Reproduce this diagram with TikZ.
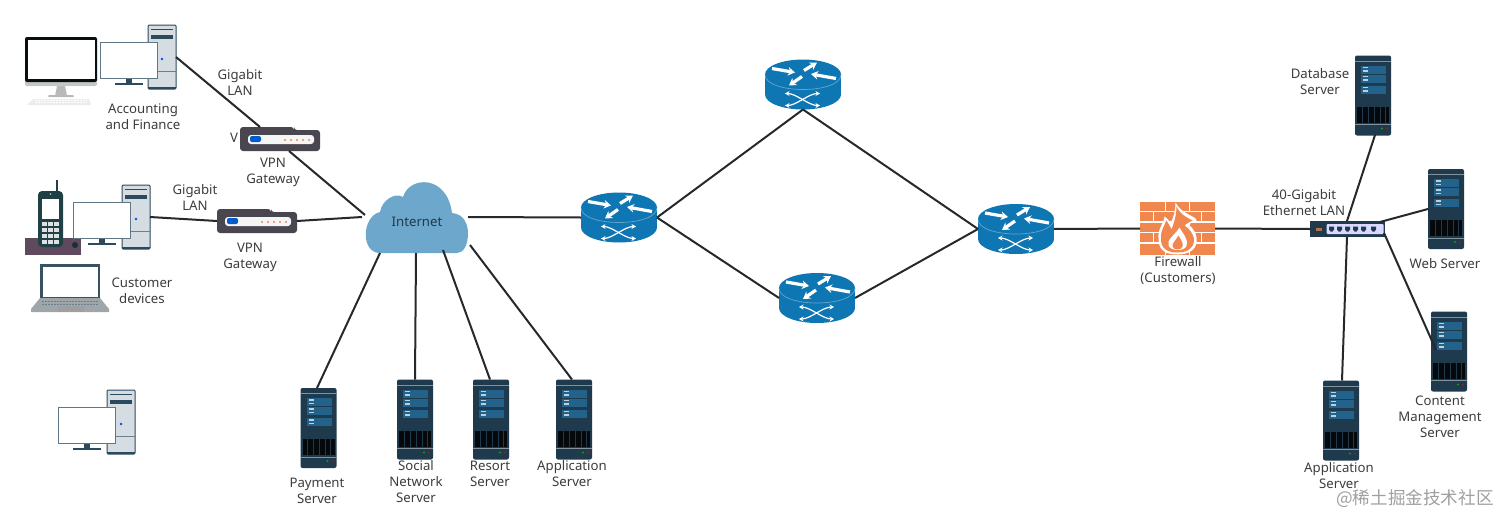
\documentclass[tikz,border=0pt]{standalone}
\usepackage{fontspec}
\setmainfont{Noto Sans}
\newfontfamily\cjkfont{Noto Sans CJK SC}
\usetikzlibrary{arrows.meta}
\definecolor{srv}{HTML}{1E3A4C}
\definecolor{srvb}{HTML}{23628A}
\definecolor{rtr}{HTML}{0F76B4}
\definecolor{cloudc}{HTML}{6DA8CC}
\definecolor{brick}{HTML}{F0874F}
\definecolor{gw}{HTML}{4A4650}
\definecolor{pcl}{HTML}{D5DCE2}
\definecolor{pcd}{HTML}{2C4A5E}
\definecolor{linec}{HTML}{26292C}
\definecolor{txt}{HTML}{3C3C3C}
\definecolor{baseph}{HTML}{5E4A5C}
\definecolor{handset}{HTML}{1F4045}
\tikzset{
  x=1pt,y=-1pt,
  conn/.style={draw=linec,line width=2pt},
  lbl/.style={text=txt,font=\fontsize{13.2}{16}\selectfont,align=center,inner sep=0pt},
  iconbox/.style={inner sep=0pt,outer sep=0pt,draw=none},
  arw/.style={draw=white,line width=3.2pt,-{Stealth[length=7pt,width=8.5pt]}},
  thinarw/.style={draw=white,line width=1.2pt,{Stealth[length=4.5pt,width=5pt]}-{Stealth[length=4.5pt,width=5pt]}},
  server/.pic={
    \fill[srv,rounded corners=2pt] (-18,-40) rectangle (18,40);
    \fill[srv!55!white] (-18,-35) rectangle (18,-33.8);
    \fill[srv!55!white] (-18,28.5) rectangle (18,29.7);
    \foreach \yy in {-30,-21,-10}{\fill[srvb] (-12,\yy) rectangle (13,\yy+8);
      \fill[white!70!srvb] (-10,\yy+1.2) rectangle (-5,\yy+2.6);
      \fill[white!70!srvb] (-10,\yy+4.6) rectangle (-5,\yy+6);}
    \fill[black!85!srv] (-16,11) rectangle (16,27);
    \foreach \xx in {-11,-5,1,7,12}{\draw[srv,line width=.5pt] (\xx,11) -- (\xx,27);}
    \fill[green!50!srv] (9,33) circle (1.2);
    \fill[red!50!srv] (14,33) circle (1.2);
  },
  router/.pic={
    \fill[rtr] (-38,-10) rectangle (38,10);
    \fill[rtr] (0,-10) ellipse[x radius=38pt,y radius=15pt];
    \fill[rtr] (0,10) ellipse[x radius=38pt,y radius=15pt];
    \draw[white!35!rtr,line width=.7pt] (-38,-10) .. controls (-38,10) and (38,10) .. (38,-10);
    \draw[arw] (-31,-16) -- (-8,-12);
    \draw[arw] (1,-14) -- (14,-22);
    \draw[arw] (33,-6) -- (8,-10.5);
    \draw[arw] (-1,-8) -- (-14,1);
    \draw[thinarw] (-18,9) .. controls (-7,9) and (6,21) .. (17,21);
    \draw[thinarw] (-18,21) .. controls (-7,21) and (6,9) .. (17,9);
  },
  tower/.pic={
    \fill[pcl,draw=pcd,line width=1pt,rounded corners=1pt] (-14,-32) rectangle (14,32);
    \fill[pcd] (-11,-28.5) rectangle (11,-27);
    \fill[pcd] (-11,-22) rectangle (11,-18.5);
    \fill[blue!70!cyan] (0,2) circle (1.3);
    \draw[pcd!70,line width=.7pt] (-14,14) -- (14,14);
    \fill[pcd] (-14,30) rectangle (14,32);
  },
  monitor/.pic={
    \fill[pcd] (-3,18) rectangle (3,23);
    \fill[pcd] (-14,23) rectangle (14,25);
    \fill[white,draw=pcd!75!white,line width=.9pt] (-28.5,-18) rectangle (28.5,18);
  },
  imac/.pic={
    \fill[gray!55] (-4,16) -- (4,16) -- (6,26) -- (-6,26) -- cycle;
    \fill[gray!55,rounded corners=1pt] (-13,25) rectangle (13,27);
    \fill[gray!45,rounded corners=2pt] (-36,5) rectangle (36,16);
    \fill[black!75!srv,rounded corners=2pt] (-36,-33) rectangle (36,12);
    \fill[white] (-33.5,-30) rectangle (33.5,8.5);
    \fill[gray!15] (-28,29) -- (28,29) -- (30,35) -- (-34,35) -- cycle;
    \foreach \yy in {30.5,32.5}{\draw[white,line width=.5pt,dash pattern=on 2pt off 1pt] (-26,\yy) -- (26,\yy);}
  },
  phone/.pic={
    \fill[baseph] (-28,19) rectangle (28,36);
    \draw[handset,line width=1.2pt] (4,-39) -- (4,-28);
    \fill[handset,rounded corners=4pt] (-15,-28) rectangle (10,28);
    \fill[white] (-11,-20) rectangle (6,0);
    \foreach \yy in {3,9,15,21}{\foreach \xx in {-9,-3,3}{\fill[white!85!srv] (\xx-2,\yy) rectangle (\xx+3,\yy+3.5);}}
    \fill[srv!80!black] (22,26) circle (3);
    \fill[white!70!handset] (-2.5,-25) circle (.8);
  },
  laptop/.pic={
    \fill[pcd!85!gray] (-30,-24) rectangle (30,10);
    \fill[white] (-27.5,-21.5) rectangle (27.5,9);
    \fill[gray!60!pcd!60!white] (-30,10) -- (30,10) -- (39,21) -- (39,24) -- (-39,24) -- (-39,21) -- cycle;
    \foreach \yy in {13,16}{\draw[pcd!70,line width=.8pt,dash pattern=on 2pt off 1pt] (-28,\yy) -- (28,\yy);}
    \fill[gray!75] (-12,18) rectangle (14,24);
  },
  gateway/.pic={
    \fill[gw,rounded corners=3pt] (-40,-12) -- (-40,12) -- (40,12) -- (40,-9) -- (14,-9) -- (14,-12) -- cycle;
    \fill[white!92!gray,rounded corners=3pt] (-32,-4) rectangle (34,5);
    \fill[blue!55!cyan!80!black,rounded corners=2pt] (-30,-3) rectangle (-19,3);
    \foreach \xx in {5,11,17,23,29}{\fill[brick] (\xx,1) circle (1.1);}
  },
  switchbox/.pic={
    \fill[srv] (-37.5,-8) rectangle (37.5,8);
    \fill[white!85!blue,rounded corners=1pt] (-21,-5) rectangle (36,5);
    \foreach \xx in {-16,-8,0,8,16,26}{\fill[srv] (\xx-2.5,-2.5) -- (\xx+2.5,-2.5) -- (\xx+2.5,.5) -- (\xx+1,2.5) -- (\xx-1,2.5) -- (\xx-2.5,.5) -- cycle;}
    \fill[brick!70!srv] (-32,-1) rectangle (-26,2);
  },
  firewall/.pic={
    \fill[brick] (-37.5,-26.5) rectangle (37.5,26.5);
    \foreach \yy in {-17,-6.5,4,14.5}{\draw[white,line width=1.8pt] (-37.5,\yy) -- (37.5,\yy);}
    \foreach \xx in {-12,12}{\draw[white,line width=1.8pt] (\xx,-26.5) -- (\xx,-17) (\xx,-6.5) -- (\xx,4) (\xx,14.5) -- (\xx,26.5);}
    \foreach \xx in {-24,0,24}{\draw[white,line width=1.8pt] (\xx,-17) -- (\xx,-6.5) (\xx,4) -- (\xx,14.5);}
    \fill[white] (-2,-26) .. controls (4,-14) and (20,-12) .. (19,-8) .. controls (16,-6) and (13,-6) .. (11,-4) .. controls (18,2) and (20,8) .. (19,14) .. controls (18,22) and (10,26) .. (0,26) .. controls (-12,26) and (-19,22) .. (-19,10) .. controls (-20,0) and (-14,-4) .. (-13,-12) .. controls (-9,-9) and (-8,-7) .. (-7,-5) .. controls (-4,-11) and (-2,-18) .. (-2,-26) -- cycle;
    \fill[brick] (-1,-22) .. controls (3,-13) and (12,-10) .. (15,-8) .. controls (11,-6) and (9,-5) .. (7,-3) .. controls (14,2) and (17,8) .. (16.5,13) .. controls (16,20) and (9,24) .. (0,24) .. controls (-10,24) and (-17,20) .. (-16.5,10) .. controls (-17,2) and (-13,-3) .. (-11,-8) .. controls (-9,-5) and (-8,-3) .. (-6,1) .. controls (-3,-7) and (-1,-14) .. (-1,-22) -- cycle;
    \fill[white] (2,-1) .. controls (5,5) and (11,10) .. (9,17) .. controls (8,23) and (-7,23) .. (-9,17) .. controls (-11,11) and (-3,7) .. (2,-1) -- cycle;
    \fill[brick] (1,7) .. controls (3,11) and (6,14) .. (5,18) .. controls (4,22) and (-4,22) .. (-5,18) .. controls (-6,15) and (-1,11) .. (1,7) -- cycle;
  },
  cloudpic/.pic={
    \fill[cloudc] (-37,35) .. controls (-57,35) and (-55,-2) .. (-37,-6)
      .. controls (-35,-18) and (-22,-26) .. (-14,-21)
      .. controls (-8,-42) and (30,-44) .. (35,-5)
      .. controls (48,-4) and (51,8) .. (51,15)
      .. controls (51,28) and (46,35) .. (40,35) -- cycle;
  },
}
\newcommand{\icon}[6]{\pic at (#3,#4) {#2};\node[iconbox,minimum width=#5pt,minimum height=#6pt] (#1) at (#3,#4) {};}
\begin{document}
\begin{tikzpicture}
\useasboundingbox (0,0) rectangle (1512,525);
% icons
\icon{imacA}{imac}{61}{70}{72}{70}
\icon{towerA}{tower}{162}{57}{28}{64}
\icon{monA}{monitor}{128.5}{60}{57}{36}
\icon{gwA}{gateway}{280}{139}{80}{24}
\icon{phoneB}{phone}{53}{219}{56}{76}
\icon{towerB}{tower}{136}{217}{28}{64}
\icon{monB}{monitor}{102}{220}{57}{36}
\icon{laptopB}{laptop}{70}{288}{78}{48}
\icon{gwB}{gateway}{257}{221}{80}{24}
\icon{towerC}{tower}{121}{422}{28}{64}
\icon{monC}{monitor}{86.5}{425}{57}{36}
\icon{cloud}{cloudpic}{417}{218}{101}{72}
\icon{pay}{server}{318.5}{428}{36}{80}
\icon{social}{server}{415}{419.5}{36}{80}
\icon{resort}{server}{491}{419.5}{36}{80}
\icon{appA}{server}{574}{419.5}{36}{80}
\icon{rOne}{router}{619}{217.5}{76}{50}
\icon{rTop}{router}{803}{84.5}{76}{50}
\icon{rBot}{router}{817}{298}{76}{50}
\icon{rThree}{router}{1016}{229}{76}{50}
\icon{fw}{firewall}{1177.5}{228.5}{75}{53}
\icon{sw}{switchbox}{1347.5}{229}{75}{16}
\icon{db}{server}{1373}{95.5}{36}{80}
\icon{web}{server}{1446}{209}{36}{80}
\icon{cms}{server}{1449}{351.5}{36}{80}
\icon{appB}{server}{1341}{420.5}{36}{80}
% free ends on the icons' edges
\coordinate (cW) at (365,215);
\coordinate (cW2) at (362,217);
\coordinate (cSa) at (380,253);
\coordinate (cSb) at (416,253);
\coordinate (cSc) at (443,250);
\coordinate (cSd) at (470,245);
\coordinate (cE) at (468,217);
\coordinate (swTop) at (1347,221);
\coordinate (swBot) at (1347,237);
\coordinate (swTR) at (1380,222);
\coordinate (swBR) at (1384,233);
\coordinate (dbEnd) at (1375,135);
\coordinate (webEnd) at (1428,209);
\coordinate (cmsEnd) at (1436,350);
\coordinate (appBEnd) at (1342,380.5);
\coordinate (gwAin) at (260,127);
\coordinate (gwAout) at (289,151);
\coordinate (socEnd) at (415,379.5);
\coordinate (resEnd) at (490,379.5);
\coordinate (appAEnd) at (572,379.5);
\coordinate (payEnd) at (317,388);
% connectors
\draw[conn] (towerA.east) -- (gwAin);
\draw[conn] (gwAout) -- (cW);
\draw[conn] (towerB.east) -- (gwB.west);
\draw[conn] (gwB.east) -- (cW2);
\draw[conn] (cE) -- (rOne.west);
\draw[conn] (rOne.east) -- (rTop.south);
\draw[conn] (rOne.east) -- (rBot.west);
\draw[conn] (rTop.south) -- (rThree.west);
\draw[conn] (rBot.east) -- (rThree.west);
\draw[conn] (rThree.east) -- (fw.west);
\draw[conn] (fw.east) -- (sw.west);
\draw[conn] (swTop) -- (dbEnd);
\draw[conn] (swTR) -- (webEnd);
\draw[conn] (swBR) -- (cmsEnd);
\draw[conn] (swBot) -- (appBEnd);
\draw[conn] (cSa) -- (payEnd);
\draw[conn] (cSb) -- (socEnd);
\draw[conn] (cSc) -- (resEnd);
\draw[conn] (cSd) -- (appAEnd);
% labels
\node[lbl] (t1) at (240,82) {Gigabit\\LAN};
\node[lbl] (t2) at (143,117) {Accounting\\and Finance};
\node[lbl] (t3) at (234,138) {V};
\node[lbl] (t4) at (273,172) {VPN\\Gateway};
\node[lbl] (t5) at (195,197) {Gigabit\\LAN};
\node[lbl] (t6) at (250,257) {VPN\\Gateway};
\node[lbl] (t7) at (142,291) {Customer\\devices};
\node[lbl,text=srv] (t8) at (417,222) {Internet};
\node[lbl] (t9) at (317,491) {Payment\\Server};
\node[lbl] (t10) at (416,482) {Social\\Network\\Server};
\node[lbl] (t11) at (490,474) {Resort\\Server};
\node[lbl] (t12) at (572,474) {Application\\Server};
\node[lbl] (t13) at (1178,271) {Firewall\\(Customers)};
\node[lbl] (t14) at (1304,203) {40-Gigabit\\Ethernet LAN};
\node[lbl] (t15) at (1320,82) {Database\\Server};
\node[lbl] (t16) at (1445,264) {Web Server};
\node[lbl] (t17) at (1440,417) {Content\\Management\\Server};
\node[lbl] (t18) at (1339,475.5) {Application\\Server};
\node[inner sep=0pt,text=gray!75,font=\cjkfont\fontsize{17.6}{20}\selectfont] (wm) at (1415,499) {@稀土掘金技术社区};
\end{tikzpicture}
\end{document}
